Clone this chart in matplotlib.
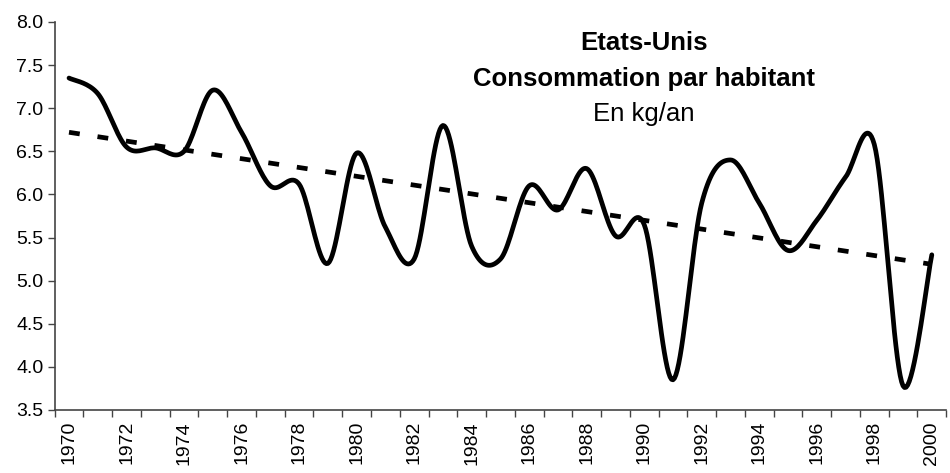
import numpy as np
import matplotlib
matplotlib.use("Agg")
import matplotlib.pyplot as plt

plt.rcParams["font.family"] = ["Liberation Sans", "DejaVu Sans"]

# données (kg/an par habitant)
years = list(range(1970, 2001))
conso = [7.35, 7.17, 6.55, 6.54, 6.50, 7.21, 6.72, 6.10, 6.12, 5.20,
         6.48, 5.62, 5.25, 6.80, 5.40, 5.25, 6.10, 5.82, 6.30, 5.52,
         5.65, 3.85, 5.90, 6.40, 5.90, 5.35, 5.70, 6.20, 6.58, 3.78,
         5.30]
tick_years = list(range(1970, 2001, 2))

title_lines = ["Etats-Unis", "Consommation par habitant", "En kg/an"]


def lissage(x, y, n=20):
    """Courbe lissée type Excel (spline de Catmull-Rom passant par les points)."""
    x = np.asarray(x, float)
    y = np.asarray(y, float)
    xp = np.concatenate([[x[0]], x, [x[-1]]])
    yp = np.concatenate([[y[0]], y, [y[-1]]])
    xs, ys = [], []
    t = np.linspace(0, 1, n, endpoint=False)
    for i in range(1, len(xp) - 2):
        for arr, out in ((xp, xs), (yp, ys)):
            p0, p1, p2, p3 = arr[i - 1], arr[i], arr[i + 1], arr[i + 2]
            out.extend(0.5 * ((2 * p1) + (-p0 + p2) * t
                              + (2 * p0 - 5 * p1 + 4 * p2 - p3) * t ** 2
                              + (-p0 + 3 * p1 - 3 * p2 + p3) * t ** 3))
    xs.append(x[-1])
    ys.append(y[-1])
    return np.array(xs), np.array(ys)


fig = plt.figure(figsize=(9.5, 4.73), dpi=100)
ax = fig.add_axes([0.0575, 0.1332, 0.9385, 0.8203])

xs, ys = lissage(years, conso)
ax.plot(xs, ys, color="black", lw=3.4, solid_capstyle="round", zorder=3)

# tendance linéaire
a, b = np.polyfit(years, conso, 1)
yr = np.array([years[0], years[-1]])
ax.plot(yr, a * yr + b, color="black", lw=3.4, dashes=(2.3, 3.8), zorder=2)

ax.set_xlim(1969.5, 2000.5)
ax.set_ylim(3.5, 8.0)
ax.set_yticks(np.arange(3.5, 8.01, 0.5))
ax.set_yticklabels([f"{v:.1f}" for v in np.arange(3.5, 8.01, 0.5)], fontsize=14)

ax.set_xticks(tick_years)
ax.set_xticklabels([str(y) for y in tick_years], rotation=90, fontsize=14)
ax.set_xticks(np.arange(1969.5, 2000.6, 1), minor=True)
ax.tick_params(axis="x", which="major", length=0, pad=8)
ax.tick_params(axis="x", which="minor", length=5, width=1, color="#444444")
ax.tick_params(axis="y", length=5, width=1, color="#444444", pad=3)

for s in ("top", "right"):
    ax.spines[s].set_visible(False)
for s in ("left", "bottom"):
    ax.spines[s].set_color("#444444")
    ax.spines[s].set_linewidth(1.2)

tx = 0.661
ax.text(tx, 0.946, title_lines[0], transform=ax.transAxes, ha="center",
        va="center", fontsize=18.5, fontweight="bold")
ax.text(tx, 0.852, title_lines[1], transform=ax.transAxes, ha="center",
        va="center", fontsize=18.5, fontweight="bold")
ax.text(tx, 0.763, title_lines[2], transform=ax.transAxes, ha="center",
        va="center", fontsize=18.5)

fig.savefig("out.png", dpi=100)
